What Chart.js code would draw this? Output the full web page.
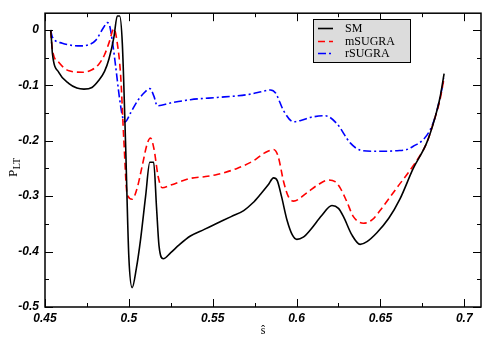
<!DOCTYPE html>
<html>
<head>
<meta charset="utf-8">
<script src="https://cdn.jsdelivr.net/npm/chart.js@4.4.1/dist/chart.umd.min.js"></script>
<style>
  html, body { margin: 0; padding: 0; background: #fff; }
</style>
</head>
<body>
<canvas id="pltChart" width="483" height="339"></canvas>
<script>
// values
const smX = [0.4534, 0.4540, 0.4544, 0.4583, 0.4643, 0.4690, 0.4732, 0.4780, 0.4821, 0.4855, 0.4881, 0.4911, 0.4931, 0.4945, 0.4961, 0.4980, 0.5000, 0.5020, 0.5045, 0.5070, 0.5100, 0.5125, 0.5148, 0.5165, 0.5180, 0.5205, 0.5250, 0.5300, 0.5367, 0.5450, 0.5526, 0.5610, 0.5685, 0.5740, 0.5784, 0.5830, 0.5863, 0.5885, 0.5910, 0.5943, 0.5975, 0.6002, 0.6040, 0.6082, 0.6150, 0.6211, 0.6250, 0.6280, 0.6330, 0.6379, 0.6420, 0.6479, 0.6550, 0.6617, 0.6696, 0.6776, 0.6826, 0.6855, 0.6880];
const smY = [0.000, -0.024, -0.042, -0.077, -0.097, -0.105, -0.107, -0.104, -0.091, -0.075, -0.053, -0.013, 0.025, 0.025, -0.024, -0.200, -0.410, -0.465, -0.430, -0.378, -0.300, -0.239, -0.239, -0.320, -0.390, -0.413, -0.402, -0.388, -0.372, -0.360, -0.349, -0.337, -0.326, -0.312, -0.297, -0.280, -0.267, -0.272, -0.300, -0.343, -0.370, -0.378, -0.374, -0.361, -0.335, -0.317, -0.322, -0.337, -0.370, -0.387, -0.382, -0.366, -0.340, -0.305, -0.250, -0.204, -0.158, -0.123, -0.079];

const msX = [0.4534, 0.4544, 0.4583, 0.4643, 0.4723, 0.4780, 0.4821, 0.4855, 0.4881, 0.4911, 0.4931, 0.4951, 0.4970, 0.4990, 0.5020, 0.5050, 0.5080, 0.5110, 0.5129, 0.5150, 0.5175, 0.5199, 0.5250, 0.5367, 0.5450, 0.5526, 0.5645, 0.5744, 0.5810, 0.5863, 0.5890, 0.5923, 0.5950, 0.5982, 0.6062, 0.6130, 0.6190, 0.6230, 0.6260, 0.6300, 0.6339, 0.6399, 0.6450, 0.6498, 0.6598, 0.6696, 0.6776, 0.6826, 0.6855, 0.6880];
const msY = [-0.002, -0.036, -0.059, -0.074, -0.0765, -0.072, -0.062, -0.045, -0.024, 0.002, -0.024, -0.082, -0.198, -0.297, -0.3055, -0.285, -0.245, -0.205, -0.195, -0.215, -0.265, -0.285, -0.280, -0.268, -0.265, -0.261, -0.250, -0.236, -0.222, -0.216, -0.228, -0.274, -0.300, -0.309, -0.294, -0.279, -0.271, -0.274, -0.285, -0.310, -0.337, -0.349, -0.343, -0.326, -0.285, -0.245, -0.204, -0.158, -0.127, -0.086];

const rsX = [0.4534, 0.4544, 0.4603, 0.4660, 0.4713, 0.4760, 0.4802, 0.4851, 0.4871, 0.4885, 0.4901, 0.4921, 0.4945, 0.4965, 0.4978, 0.5010, 0.5050, 0.5090, 0.5125, 0.5150, 0.5169, 0.5248, 0.5367, 0.5526, 0.5650, 0.5725, 0.5800, 0.5844, 0.5875, 0.5923, 0.5982, 0.6030, 0.6082, 0.6171, 0.6240, 0.6320, 0.6379, 0.6450, 0.6518, 0.6600, 0.6657, 0.6696, 0.6756, 0.6796, 0.6826, 0.6855, 0.6880];
const rsY = [-0.001, -0.013, -0.024, -0.028, -0.029, -0.027, -0.019, 0.005, 0.013, 0.008, -0.019, -0.065, -0.125, -0.160, -0.166, -0.150, -0.129, -0.114, -0.106, -0.120, -0.137, -0.132, -0.126, -0.122, -0.119, -0.116, -0.111, -0.1085, -0.114, -0.146, -0.166, -0.163, -0.158, -0.155, -0.169, -0.204, -0.217, -0.219, -0.219, -0.218, -0.216, -0.210, -0.198, -0.181, -0.158, -0.123, -0.088];

const seriesNames = ['SM', 'mSUGRA', 'rSUGRA'];

const xTicks = [0.45, 0.5, 0.55, 0.6, 0.65, 0.7];
const xMinorTicks = [0.475, 0.525, 0.575, 0.625, 0.675];
const yTicks = [0, -0.1, -0.2, -0.3, -0.4, -0.5];
const yMinorTicks = [-0.05, -0.15, -0.25, -0.35, -0.45];

function toPoints(xs, ys) {
    return xs.map((x, i) => ({ x: x, y: ys[i] }));
}

// frame with inward ticks on all four sides
const framePlugin = {
    id: 'frame',
    afterDraw(chart) {
        const ctx = chart.ctx;
        const a = chart.chartArea;
        const xs = chart.scales.x, ys = chart.scales.y;
        ctx.save();
        ctx.strokeStyle = '#000';
        ctx.lineWidth = 1;
        const tick = (vals, len) => {
            vals.forEach(v => {
                const px = Math.round(xs.getPixelForValue(v)) + 0.5;
                ctx.beginPath();
                ctx.moveTo(px, a.bottom); ctx.lineTo(px, a.bottom - len);
                ctx.moveTo(px, a.top); ctx.lineTo(px, a.top + len);
                ctx.stroke();
            });
        };
        const ytick = (vals, len) => {
            vals.forEach(v => {
                const py = Math.round(ys.getPixelForValue(v)) + 0.5;
                ctx.beginPath();
                ctx.moveTo(a.left, py); ctx.lineTo(a.left + len, py);
                ctx.moveTo(a.right, py); ctx.lineTo(a.right - len, py);
                ctx.stroke();
            });
        };
        tick(xTicks, 8); tick(xMinorTicks, 4);
        ytick(yTicks, 8); ytick(yMinorTicks, 4);
        ctx.lineWidth = 1.5;
        ctx.strokeRect(a.left, a.top, a.right - a.left, a.bottom - a.top);

        // axis titles
        ctx.fillStyle = '#000';
        ctx.font = '12px "Liberation Serif"';
        ctx.textAlign = 'center';
        ctx.textBaseline = 'middle';
        ctx.fillText('ŝ', (a.left + a.right) / 2, 331);

        ctx.translate(14, 177);
        ctx.rotate(-Math.PI / 2);
        ctx.textAlign = 'left';
        ctx.font = '13px "Liberation Serif"';
        ctx.fillText('P', 0, 0);
        const pw = ctx.measureText('P').width;
        ctx.font = '10px "Liberation Serif"';
        ctx.fillText('LT', pw + 0.5, 3);
        ctx.restore();
    }
};

// boxed legend inside the plot
const legendPlugin = {
    id: 'boxLegend',
    afterDraw(chart) {
        const ctx = chart.ctx;
        const bx = 313, by = 19, bw = 97, bh = 43;
        ctx.save();
        ctx.fillStyle = '#dcdcdc';
        ctx.fillRect(bx, by, bw, bh);
        ctx.strokeStyle = '#000';
        ctx.lineWidth = 1;
        ctx.strokeRect(bx + 0.5, by + 0.5, bw, bh);
        const rows = [28, 41, 53];
        chart.data.datasets.forEach((ds, i) => {
            const y = rows[i] + 0.5;
            ctx.strokeStyle = ds.borderColor;
            ctx.lineWidth = 1.6;
            ctx.setLineDash(ds.borderDash || []);
            ctx.beginPath();
            ctx.moveTo(318, y); ctx.lineTo(333, y);
            ctx.stroke();
            ctx.setLineDash([]);
            ctx.fillStyle = '#000';
            ctx.font = '12px "Liberation Serif"';
            ctx.textAlign = 'left';
            ctx.textBaseline = 'middle';
            ctx.fillText(ds.label, 345, rows[i] + 1);
        });
        ctx.restore();
    }
};

const tickFont = { family: 'Liberation Sans', size: 12, style: 'italic', weight: 'bold' };

new Chart(document.getElementById('pltChart'), {
    type: 'scatter',
    data: {
        datasets: [
            { label: seriesNames[0], data: toPoints(smX, smY), borderColor: '#000000', borderWidth: 1.6 },
            { label: seriesNames[1], data: toPoints(msX, msY), borderColor: '#ff0000', borderWidth: 1.6, borderDash: [7, 4] },
            { label: seriesNames[2], data: toPoints(rsX, rsY), borderColor: '#0000ff', borderWidth: 1.6, borderDash: [8, 3, 2, 3] }
        ].map(ds => Object.assign(ds, { showLine: true, pointRadius: 0, cubicInterpolationMode: 'monotone', fill: false }))
    },
    options: {
        responsive: false,
        animation: false,
        layout: { padding: { top: 2, right: 2, left: 0, bottom: 0 } },
        plugins: { legend: { display: false }, tooltip: { enabled: false } },
        scales: {
            x: {
                type: 'linear', min: 0.45, max: 0.71,
                grid: { display: false, drawTicks: false },
                border: { display: false },
                afterBuildTicks: s => { s.ticks = xTicks.map(v => ({ value: v })); },
                afterFit: s => { s.height = 32; },
                ticks: {
                    padding: 4, color: '#000', font: tickFont, maxRotation: 0,
                    callback: v => String(+v.toFixed(2))
                }
            },
            y: {
                type: 'linear', min: -0.5, max: 0.03,
                grid: { display: false, drawTicks: false },
                border: { display: false },
                afterBuildTicks: s => { s.ticks = yTicks.map(v => ({ value: v })); },
                afterFit: s => { s.width = 45; },
                ticks: {
                    padding: 6, color: '#000', font: tickFont,
                    callback: v => v === 0 ? '0' : v.toFixed(1)
                }
            }
        }
    },
    plugins: [framePlugin, legendPlugin]
});
</script>
</body>
</html>
